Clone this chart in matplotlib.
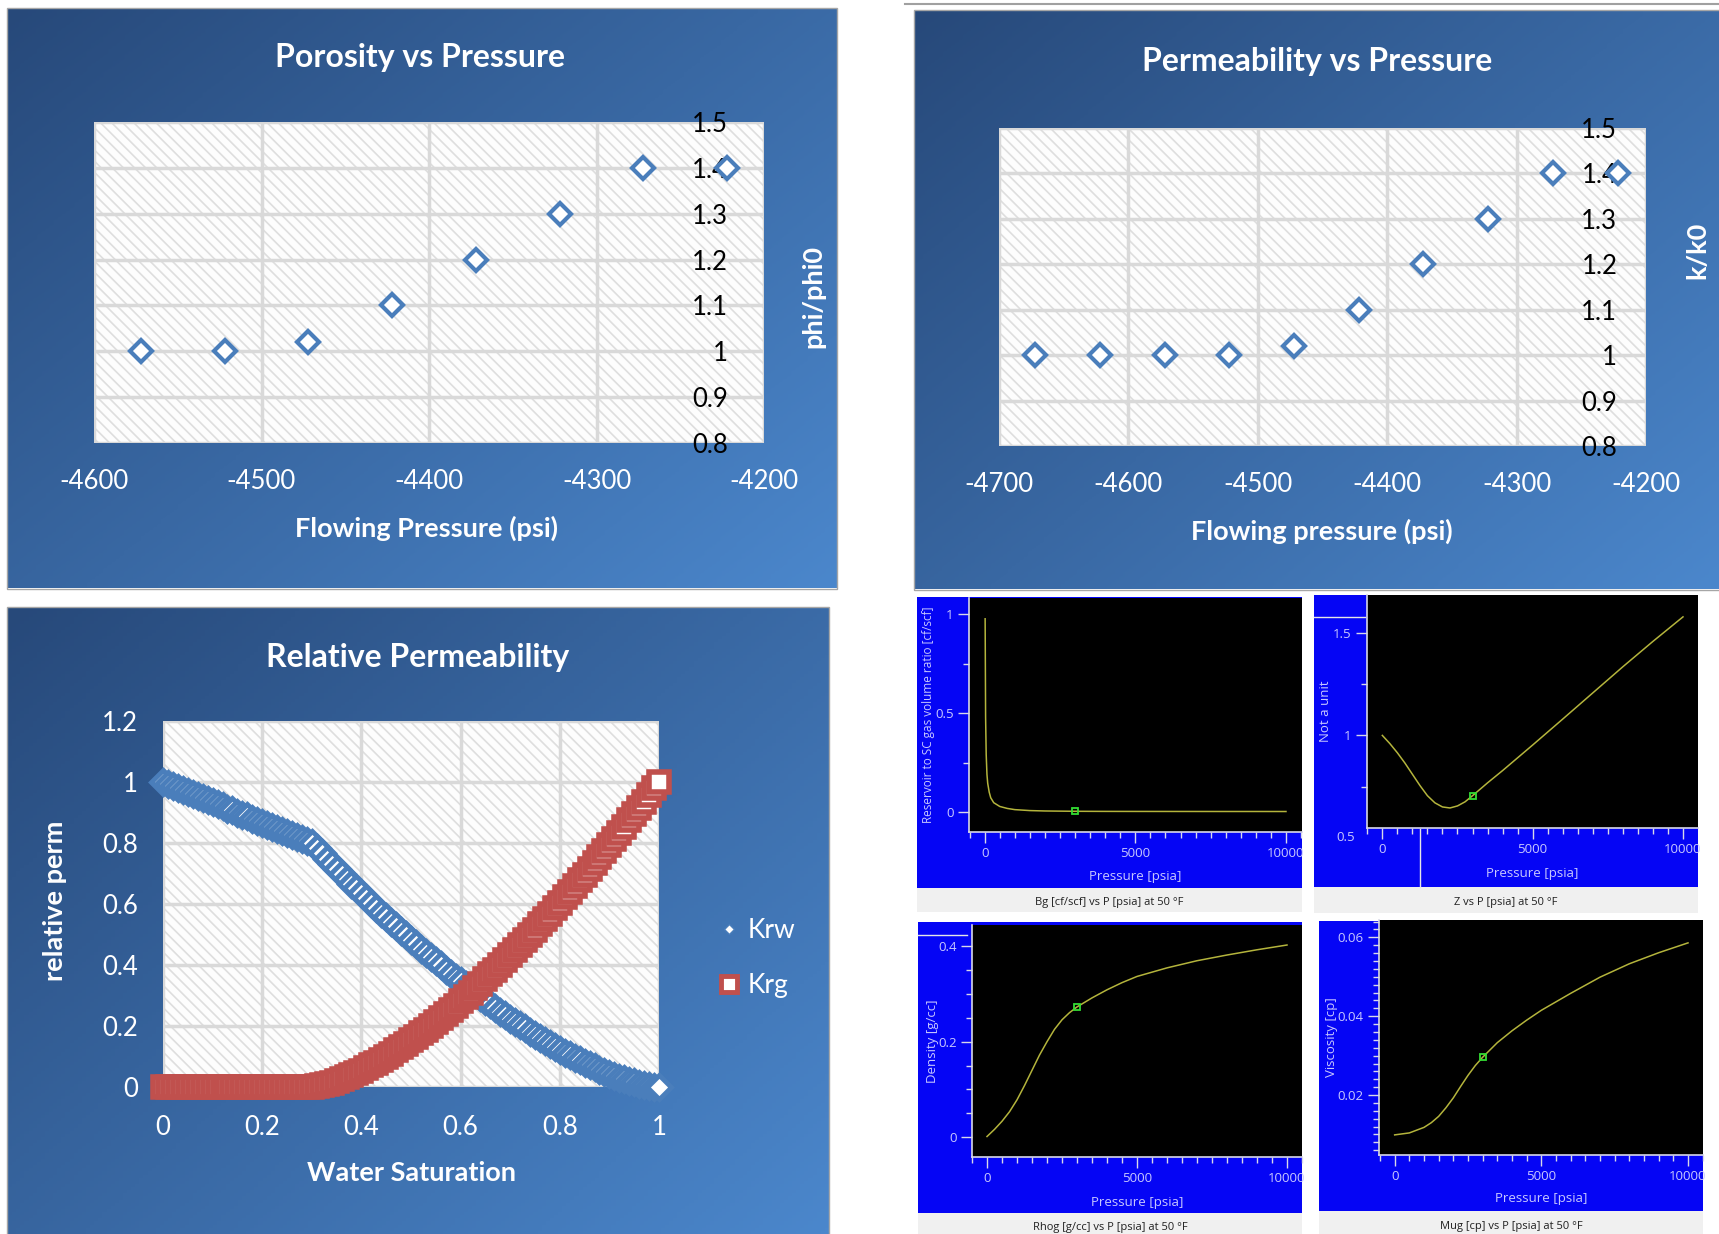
import numpy as np
import matplotlib
matplotlib.use('Agg')
import matplotlib.pyplot as plt
from matplotlib.colors import LinearSegmentedColormap
from matplotlib.patches import Rectangle
from matplotlib.lines import Line2D
from matplotlib.ticker import MultipleLocator

W, H = 1719, 1234

# --- Excel charts data ---
poro_p = [-4572, -4522, -4472, -4422, -4372, -4322, -4272, -4222]
poro_ratio = [1.0, 1.0, 1.02, 1.1, 1.2, 1.3, 1.4, 1.4]

perm_p = [-4672, -4622, -4572, -4522, -4472, -4422, -4372, -4322, -4272, -4222]
perm_ratio = [1.0, 1.0, 1.0, 1.0, 1.02, 1.1, 1.2, 1.3, 1.4, 1.4]

ratio_ticks = [0.8, 0.9, 1.0, 1.1, 1.2, 1.3, 1.4, 1.5]
ratio_labels = ['0.8', '0.9', '1', '1.1', '1.2', '1.3', '1.4', '1.5']

sw = np.linspace(0, 1, 101)
krw = [1.000, 0.993, 0.987, 0.980, 0.973, 0.967, 0.960, 0.953, 0.947, 0.940,
       0.933, 0.927, 0.920, 0.913, 0.907, 0.900, 0.893, 0.887, 0.880, 0.873,
       0.867, 0.860, 0.853, 0.847, 0.840, 0.833, 0.827, 0.820, 0.813, 0.807,
       0.800, 0.783, 0.766, 0.749, 0.732, 0.716, 0.699, 0.683, 0.667, 0.651,
       0.635, 0.619, 0.603, 0.588, 0.572, 0.557, 0.542, 0.527, 0.512, 0.498,
       0.483, 0.469, 0.454, 0.440, 0.426, 0.412, 0.399, 0.385, 0.372, 0.359,
       0.346, 0.333, 0.320, 0.307, 0.295, 0.283, 0.271, 0.259, 0.247, 0.236,
       0.224, 0.213, 0.202, 0.192, 0.181, 0.171, 0.161, 0.151, 0.141, 0.131,
       0.122, 0.113, 0.104, 0.096, 0.087, 0.079, 0.072, 0.064, 0.057, 0.050,
       0.043, 0.037, 0.031, 0.025, 0.020, 0.015, 0.011, 0.007, 0.004, 0.001,
       0.000]
krg = [0.000, 0.000, 0.000, 0.000, 0.000, 0.000, 0.000, 0.000, 0.000, 0.000,
       0.000, 0.000, 0.000, 0.000, 0.000, 0.000, 0.000, 0.000, 0.000, 0.000,
       0.000, 0.000, 0.000, 0.000, 0.000, 0.000, 0.000, 0.000, 0.000, 0.000,
       0.000, 0.002, 0.005, 0.009, 0.014, 0.019, 0.025, 0.032, 0.039, 0.046,
       0.054, 0.062, 0.071, 0.080, 0.089, 0.099, 0.109, 0.120, 0.130, 0.141,
       0.153, 0.164, 0.176, 0.188, 0.201, 0.213, 0.226, 0.240, 0.253, 0.267,
       0.281, 0.295, 0.309, 0.324, 0.339, 0.354, 0.369, 0.384, 0.400, 0.416,
       0.432, 0.448, 0.465, 0.481, 0.498, 0.515, 0.533, 0.550, 0.568, 0.586,
       0.604, 0.622, 0.640, 0.659, 0.678, 0.696, 0.716, 0.735, 0.754, 0.774,
       0.794, 0.813, 0.834, 0.854, 0.874, 0.895, 0.916, 0.936, 0.957, 0.979,
       1.000]

# --- PVT screenshot data ---
bg_p = [14.7, 30, 50, 75, 100, 150, 200, 300, 500, 750, 1000, 1500, 2000,
        3000, 4000, 5000, 6000, 7000, 8000, 9000, 10000]
bg = [0.976, 0.48, 0.29, 0.19, 0.145, 0.10, 0.072, 0.047, 0.028, 0.018, 0.012,
      0.0072, 0.0052, 0.0036, 0.0031, 0.0029, 0.0028, 0.0027, 0.0026, 0.0026, 0.0025]
bg_mark = (3000, 0.0036)

z_p = [0, 250, 500, 750, 1000, 1250, 1500, 1750, 2000, 2250, 2500, 2750, 3000,
       3500, 4000, 5000, 6000, 7000, 8000, 9000, 10000]
z = [1.0, 0.96, 0.915, 0.865, 0.81, 0.755, 0.705, 0.67, 0.65, 0.645, 0.655,
     0.675, 0.705, 0.768, 0.828, 0.953, 1.08, 1.208, 1.336, 1.46, 1.58]
z_mark = (3000, 0.705)

rhog_p = [0, 250, 500, 750, 1000, 1250, 1500, 1750, 2000, 2250, 2500, 2750,
          3000, 3500, 4000, 4500, 5000, 6000, 7000, 8000, 9000, 10000]
rhog = [0.001, 0.016, 0.033, 0.053, 0.078, 0.108, 0.140, 0.172, 0.200, 0.226,
        0.246, 0.261, 0.273, 0.292, 0.309, 0.324, 0.337, 0.355, 0.370, 0.382,
        0.393, 0.403]
rhog_mark = (3000, 0.273)

mug_p = [0, 500, 1000, 1250, 1500, 1750, 2000, 2250, 2500, 2750, 3000, 3500,
         4000, 4500, 5000, 6000, 7000, 8000, 9000, 10000]
mug = [0.0099, 0.0104, 0.0118, 0.0130, 0.0146, 0.0168, 0.0193, 0.0222, 0.0250,
       0.0275, 0.0296, 0.0333, 0.0363, 0.0390, 0.0415, 0.0458, 0.0499, 0.0533,
       0.0561, 0.0586]
mug_mark = (3000, 0.0296)

XL_FONT = 'Lato'
PVT_FONT = 'Open Sans'
BLUE = '#4a7ebb'
RED = '#c0504d'
PVT_TXT = '#c8c8ff'
CURVE = '#b4b43c'

plt.rcParams['hatch.linewidth'] = 1.2

fig = plt.figure(figsize=(W / 100, H / 100), dpi=100)
fig.patch.set_facecolor('white')


def box(x0, y0, x1, y1):
    return [x0 / W, 1 - y1 / H, (x1 - x0) / W, (y1 - y0) / H]


def fig_rect(x0, y0, x1, y1, fc, ec='none', lw=0, z=-2):
    fig.add_artist(Rectangle((x0 / W, 1 - y1 / H), (x1 - x0) / W, (y1 - y0) / H,
                             transform=fig.transFigure, facecolor=fc,
                             edgecolor=ec, lw=lw, zorder=z))


def fig_line(x0, y0, x1, y1, color='#e6e6e6', lw=1.0):
    fig.add_artist(Line2D([x0 / W, x1 / W], [1 - y0 / H, 1 - y1 / H],
                          transform=fig.transFigure, color=color, lw=lw, zorder=5))


grad_cmap = LinearSegmentedColormap.from_list('xl', ['#27497a', '#4b87cc'])


def gradient_bg(x0, y0, x1, y1):
    bga = fig.add_axes(box(x0, y0, x1, y1), zorder=-1)
    gx, gy = np.meshgrid(np.linspace(0, 1, 200), np.linspace(0, 1, 200))
    bga.imshow(0.55 * gx + 0.45 * gy, cmap=grad_cmap, aspect='auto',
               extent=(0, 1, 0, 1), origin='upper')
    bga.set_axis_off()
    fig_rect(x0 - 1, y0 - 1, x1 + 1, y1 + 1, 'none', ec='#a6a6a6', lw=1, z=-0.5)


def excel_area(ax):
    ax.set_facecolor('#fdfdfd')
    ax.add_patch(Rectangle((0, 0), 1, 1, transform=ax.transAxes, facecolor='none',
                           edgecolor='#dedede', hatch='\\\\\\', lw=0, zorder=0))
    ax.grid(True, color='#d9d9d9', lw=2.5)
    ax.set_axisbelow(True)
    for s in ax.spines.values():
        s.set_visible(False)
    ax.tick_params(length=0)


def ratio_chart(bx, abox, px, py, xticks, title, title_xy, xlabel, xlabel_xy,
                ylabel, ylabel_xy):
    gradient_bg(*bx)
    ax = fig.add_axes(box(*abox))
    excel_area(ax)
    ax.plot(px, py, ls='none', marker='D', ms=11.5, mfc='white', mec=BLUE,
            mew=3, clip_on=False, zorder=3)
    ax.set_xlim(xticks[0], xticks[-1])
    ax.set_ylim(0.8, 1.5)
    ax.set_xticks(xticks)
    ax.set_xticklabels([str(t) for t in xticks])
    ax.set_yticks(ratio_ticks)
    ax.set_yticklabels(ratio_labels)
    ax.spines['left'].set_position(('data', -4220))
    ax.tick_params(axis='x', colors='white', labelsize=18.5, pad=19)
    ax.tick_params(axis='y', colors='black', labelsize=18.5, pad=2)
    for lab in ax.get_xticklabels() + ax.get_yticklabels():
        lab.set_fontfamily(XL_FONT)
    fig.text(title_xy[0] / W, 1 - title_xy[1] / H, title, color='white',
             fontsize=23, fontweight='bold', family=XL_FONT, ha='center', va='center')
    fig.text(xlabel_xy[0] / W, 1 - xlabel_xy[1] / H, xlabel, color='white',
             fontsize=19.5, fontweight='bold', family=XL_FONT, ha='center', va='center')
    fig.text(ylabel_xy[0] / W, 1 - ylabel_xy[1] / H, ylabel, color='white',
             fontsize=19.5, fontweight='bold', family=XL_FONT, ha='center',
             va='center', rotation=90)


ratio_chart((8, 9, 836, 588), (94, 122, 764, 443), poro_p, poro_ratio,
            [-4600, -4500, -4400, -4300, -4200], 'Porosity vs Pressure', (420, 57),
            'Flowing Pressure (psi)', (426, 528), 'phi/phi0', (813, 297))
ratio_chart((915, 11, 1719, 589), (999, 128, 1646, 446), perm_p, perm_ratio,
            [-4700, -4600, -4500, -4400, -4300, -4200], 'Permeability vs Pressure',
            (1317, 62), 'Flowing pressure (psi)', (1322, 531), 'k/k0', (1697, 250))

# --- Relative permeability ---
gradient_bg(8, 608, 828, 1234)
ax = fig.add_axes(box(163, 721, 659, 1087))
excel_area(ax)
ax.plot(sw, krw, ls='none', marker='D', ms=12.5, mfc='white', mec=BLUE, mew=3.5,
        clip_on=False, zorder=3)
ax.plot(sw, krg, ls='none', marker='s', ms=14, mfc='white', mec=RED, mew=4,
        clip_on=False, zorder=4)
ax.set_xlim(0, 1)
ax.set_ylim(0, 1.2)
ax.set_xticks([0, 0.2, 0.4, 0.6, 0.8, 1.0])
ax.set_xticklabels(['0', '0.2', '0.4', '0.6', '0.8', '1'])
ax.set_yticks([0, 0.2, 0.4, 0.6, 0.8, 1.0, 1.2])
ax.set_yticklabels(['0', '0.2', '0.4', '0.6', '0.8', '1', '1.2'])
ax.tick_params(axis='x', colors='white', labelsize=18.5, pad=20)
ax.tick_params(axis='y', colors='white', labelsize=18.5, pad=18)
for lab in ax.get_xticklabels() + ax.get_yticklabels():
    lab.set_fontfamily(XL_FONT)
handles = [Line2D([], [], ls='none', marker='D', ms=5, mfc='white', mec=BLUE, mew=1),
           Line2D([], [], ls='none', marker='s', ms=11, mfc='white', mec=RED, mew=3.5)]
ax.legend(handles, ['Krw', 'Krg'], loc='center left', bbox_to_anchor=(695 / W, 1 - 958 / H),
          bbox_transform=fig.transFigure, frameon=False, labelcolor='white',
          prop={'family': XL_FONT, 'size': 19}, handlelength=0.8,
          handletextpad=0.3, labelspacing=1.15)
fig.text(418 / W, 1 - 657 / H, 'Relative Permeability', color='white', fontsize=23,
         fontweight='bold', family=XL_FONT, ha='center', va='center')
fig.text(411 / W, 1 - 1173 / H, 'Water Saturation', color='white', fontsize=19.5,
         fontweight='bold', family=XL_FONT, ha='center', va='center')
fig.text(55 / W, 1 - 901 / H, 'relative perm', color='white', fontsize=19.5,
         fontweight='bold', family=XL_FONT, ha='center', va='center', rotation=90)


# --- PVT screenshots ---
def pvt_panel(blue, cap, abox, px, py, mark, xlim, ylim, yticks, ylabels, yminor,
              ylabel, ylab_x, xlab_y, caption, ylab_size=9.5):
    fig_rect(*blue, '#0505f5')
    fig_rect(*cap, '#f0f0f0')
    ax = fig.add_axes(box(*abox))
    ax.set_facecolor('black')
    ax.plot(px, py, color=CURVE, lw=1.1)
    ax.plot([mark[0]], [mark[1]], ls='none', marker='s', ms=4, mfc='none',
            mec='#33dd33', mew=1.3)
    ax.set_xlim(*xlim)
    ax.set_ylim(*ylim)
    ax.set_xticks([0, 5000, 10000])
    ax.set_xticklabels(['0', '5000', '10000'])
    ax.xaxis.set_minor_locator(MultipleLocator(500))
    ax.set_yticks(yticks)
    ax.set_yticklabels(ylabels)
    ax.yaxis.set_minor_locator(MultipleLocator(yminor))
    for s in ['top', 'right']:
        ax.spines[s].set_visible(False)
    for s in ['left', 'bottom']:
        ax.spines[s].set_color('#d8d8e8')
        ax.spines[s].set_linewidth(1.2)
    ax.tick_params(which='both', direction='out', colors='#d8d8e8',
                   labelcolor=PVT_TXT, labelsize=9.5)
    ax.tick_params(which='major', length=8, width=1, pad=3)
    ax.tick_params(which='minor', length=4, width=1)
    for lab in ax.get_xticklabels() + ax.get_yticklabels():
        lab.set_fontfamily(PVT_FONT)
    ax.set_xlabel('Pressure [psia]', color=PVT_TXT, fontsize=9.5, family=PVT_FONT)
    ax.set_ylabel(ylabel, color=PVT_TXT, fontsize=ylab_size, family=PVT_FONT)
    ax.xaxis.set_label_coords(0.5, xlab_y)
    ax.yaxis.set_label_coords(ylab_x, 0.5)
    ax.xaxis.label.set_va('center')
    ax.yaxis.label.set_va('center')
    fig.text((cap[0] + cap[2]) / 2 / W, 1 - ((cap[1] + cap[3]) / 2 + 3) / H, caption,
             color='#202020', fontsize=8, family=PVT_FONT, ha='center', va='center')
    return ax


pvt_panel((917, 597, 1302, 888), (917, 888, 1302, 912), (969, 598, 1302, 832),
          bg_p, bg, bg_mark, (-521, 10532), (-0.101, 1.081), [0, 0.5, 1],
          ['0', '0.5', '1'], 0.25, 'Reservoir to SC gas volume ratio [cf/scf]',
          -0.123, -0.192, 'Bg [cf/scf] vs P [psia] at 50 °F', ylab_size=8.5)

axz = pvt_panel((1314, 595, 1698, 887), (1314, 887, 1698, 913), (1367, 595, 1698, 828),
                z_p, z, z_mark, (-510, 10499), (0.547, 1.687), [1.0, 1.5],
                ['1', '1.5'], 0.25, 'Not a unit', -0.124, -0.197,
                'Z vs P [psia] at 50 °F')
axz.text(-0.035, 0.5, '0.5', transform=axz.get_yaxis_transform(), ha='right',
         va='center', color=PVT_TXT, fontsize=9.5, family=PVT_FONT, clip_on=False)

pvt_panel((918, 922, 1302, 1213), (918, 1213, 1302, 1236), (972, 925, 1302, 1157),
          rhog_p, rhog, rhog_mark, (-500, 10500), (-0.042, 0.445), [0, 0.2, 0.4],
          ['0', '0.2', '0.4'], 0.05, 'Density [g/cc]', -0.121, -0.198,
          'Rhog [g/cc] vs P [psia] at 50 °F')

pvt_panel((1319, 921, 1703, 1211), (1319, 1211, 1703, 1236), (1379, 920, 1703, 1155),
          mug_p, mug, mug_mark, (-534, 10511), (0.0048, 0.0644), [0.02, 0.04, 0.06],
          ['0.02', '0.04', '0.06'], 0.002, 'Viscosity [cp]', -0.148, -0.187,
          'Mug [cp] vs P [psia] at 50 °F')

# cursor cross-hair remnants in the screenshots
fig_line(1314, 617, 1365, 617)
fig_line(1420, 829, 1420, 887)
fig_line(918, 935, 967, 935)
fig_line(905, 4, 1719, 4, color='#a0a0a0', lw=1.5)

fig.savefig('out.png', dpi=100)
